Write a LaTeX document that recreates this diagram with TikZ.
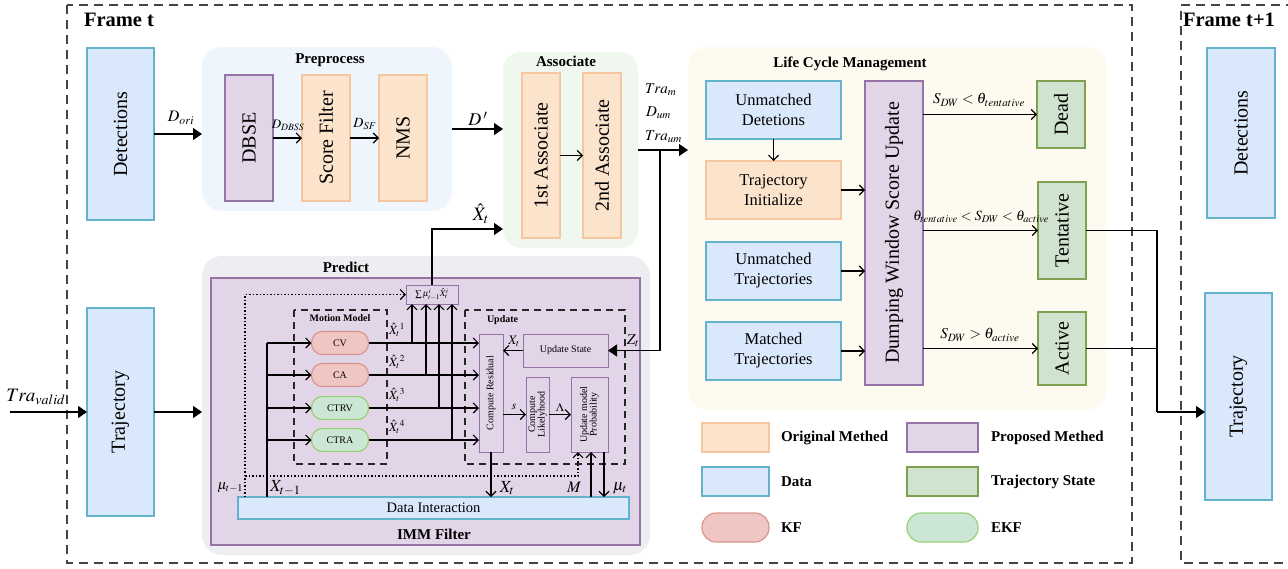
\documentclass[tikz,border=0pt]{standalone}
\usepackage{mathptmx}
\usepackage{fontspec}
\setmainfont{Liberation Serif}
\usepackage{graphicx}
\usetikzlibrary{arrows.meta,calc}

% palette
\definecolor{dataF}{HTML}{DAE8FC}
\definecolor{dataB}{HTML}{63B3CD}
\definecolor{origF}{HTML}{FCE4CC}
\definecolor{origB}{HTML}{F6C6A0}
\definecolor{propF}{HTML}{E1D5E7}
\definecolor{propB}{HTML}{9673A6}
\definecolor{stateF}{HTML}{D0E3CE}
\definecolor{stateB}{HTML}{7FA050}
\definecolor{kfF}{HTML}{F0C6C4}
\definecolor{kfB}{HTML}{D9958D}
\definecolor{ekfF}{HTML}{CBE6D4}
\definecolor{ekfB}{HTML}{97D077}
\definecolor{preBg}{HTML}{EFF5FD}
\definecolor{assBg}{HTML}{EFF7EF}
\definecolor{lcmBg}{HTML}{FDFBEF}
\definecolor{predBg}{HTML}{EEEDF2}
\definecolor{frameC}{HTML}{444444}

% text sizes
\newcommand{\uptext}[1]{\rotatebox{90}{#1}}
\newcommand{\fbig}{\fontsize{20}{24}\selectfont}
\newcommand{\fmid}{\fontsize{16.5}{20}\selectfont}
\newcommand{\fttl}{\bfseries\fontsize{15}{18}\selectfont}
\newcommand{\fsm}{\fontsize{10}{11.5}\selectfont}
\newcommand{\fsmb}{\bfseries\fontsize{10}{12}\selectfont}
\newcommand{\fdi}{\fontsize{14.5}{17}\selectfont}
\newcommand{\setfs}[1]{\fontsize{#1}{#1}\selectfont}

\tikzset{
  every node/.style={inner sep=0pt, outer sep=0pt},
  sz/.style 2 args={minimum width=#1pt, minimum height=#2pt},
  blk/.style={draw, line width=1.2pt, align=center},
  databox/.style={blk, draw=dataB, fill=dataF},
  origbox/.style={blk, draw=origB, fill=origF},
  propbox/.style={blk, draw=propB, fill=propF},
  statebox/.style={blk, draw=stateB, fill=stateF},
  kfpill/.style={blk, draw=kfB, fill=kfF, rounded corners=11pt},
  ekfpill/.style={blk, draw=ekfB, fill=ekfF, rounded corners=11pt},
  panel/.style={rounded corners=20pt},
  dashbox/.style={draw=black!85, line width=1.2pt, dash pattern=on 7pt off 5pt},
  framebox/.style={draw=frameC, line width=1.3pt, dash pattern=on 9pt off 6pt},
  flow/.style={line width=1.2pt, -{Triangle[length=9pt,width=12pt]}},
  lnk/.style={line width=1.1pt, -{Straight Barb[length=5pt,width=10pt]}},
  plain/.style={line width=1.2pt},
  dots/.style={line width=1.1pt, dash pattern=on 1.5pt off 2pt, -{Straight Barb[length=5pt,width=10pt]}},
  ttl/.style={font=\fttl},
  leg/.style={font=\fttl, anchor=west},
}

\begin{document}
\begin{tikzpicture}[x=1pt, y=-1pt]
\path[use as bounding box] (0,0) rectangle (1288,568);

% ---------- frames ----------
\draw[framebox] (67,5) rectangle (1132,563);
\draw[framebox] (1295,5) -- (1181,5) -- (1181,563) -- (1295,563);
\node[anchor=west, font=\bfseries\fontsize{20.5}{24}\selectfont] (ft) at (84,20) {Frame t};
\node[anchor=west, font=\bfseries\fontsize{20.5}{24}\selectfont] (ft1) at (1183,20) {Frame t+1};

% ---------- panels ----------
\node[panel, fill=preBg, sz={250}{164}] (pre) at (327,129) {};
\node[panel, fill=assBg, sz={135}{196}, rounded corners=18pt] (assoc) at (570.5,150) {};
\node[panel, fill=lcmBg, sz={419}{363}] (lcm) at (897.5,228.5) {};
\node[panel, fill=predBg, sz={448}{299}] (pred) at (426,405.5) {};
\node[propbox, sz={429}{267}] (imm) at (425.5,411.5) {};

\node[ttl] (tpre) at (330,60) {Preprocess};
\node[ttl] (tass) at (566,61) {Associate};
\node[ttl] (tlcm) at (850,64) {Life Cycle Management};
\node[ttl] (tpred) at (346,267) {Predict};
\node[ttl] (timm) at (434,534) {IMM Filter};

% ---------- frame t: inputs ----------
\node[databox, sz={67}{172}, font=\fbig] (det) at (120.5,134) {\uptext{Detections}};
\node[databox, sz={67}{208}, font=\fbig] (traj) at (120.5,412) {\uptext{Trajectory}};

% ---------- preprocess ----------
\node[propbox, sz={48}{126}, font=\fbig] (dbse) at (249,138) {\uptext{DBSE}};
\node[origbox, sz={48}{126}, font=\fbig] (sf) at (326,138) {\uptext{Score Filter}};
\node[origbox, sz={48}{126}, font=\fbig] (nms) at (403,138) {\uptext{NMS}};

% ---------- associate ----------
\node[origbox, sz={38}{165}, font=\fbig] (as1) at (541,155.5) {\uptext{1st Associate}};
\node[origbox, sz={38}{165}, font=\fbig] (as2) at (602,155.5) {\uptext{2nd Associate}};

% ---------- life cycle management ----------
\node[databox, sz={135}{58}, font=\fmid] (ud) at (773.5,110) {Unmatched\\Detetions};
\node[origbox, sz={135}{58}, font=\fmid] (ti) at (773.5,190) {Trajectory\\Initialize};
\node[databox, sz={135}{58}, font=\fmid] (ut) at (773.5,271) {Unmatched\\Trajectories};
\node[databox, sz={135}{58}, font=\fmid] (mt) at (773.5,351) {Matched\\Trajectories};
\node[propbox, sz={58}{304}, font=\fbig] (dw) at (894,233) {\uptext{Dumping Window Score Update}};
\node[statebox, sz={48}{67}, font=\fbig] (dead) at (1061,114.5) {\uptext{Dead}};
\node[statebox, sz={48}{97}, font=\fbig] (tent) at (1062,230.5) {\uptext{Tentative}};
\node[statebox, sz={48}{73}, font=\fbig] (act) at (1062,348.5) {\uptext{Active}};

% ---------- frame t+1 ----------
\node[databox, sz={68}{170}, font=\fbig] (det2) at (1241,133) {\uptext{Detections}};
\node[databox, sz={67}{207}, font=\fbig] (traj2) at (1238.5,396.5) {\uptext{Trajectory}};

% ---------- predict / IMM filter ----------
\draw[dashbox] (294,310) rectangle (387,464);
\draw[dashbox] (465,310) rectangle (625,464);
\node[font=\fsmb] (tmm) at (340,318) {Motion Model};
\node[font=\fsmb, anchor=west] (tupd) at (487,320) {Update};

\node[propbox, sz={52}{19}, line width=1pt, font=\fontsize{9}{10}\selectfont] (sum) at (432,294.5) {$\textstyle\sum\mu_{t-1}^{i}\hat{X}_t^{i}$};

\node[kfpill, sz={57}{23}, font=\fsm] (cv) at (340,343) {CV};
\node[kfpill, sz={57}{23}, font=\fsm] (ca) at (340,375) {CA};
\node[ekfpill, sz={57}{23}, font=\fsm] (ctrv) at (340,408) {CTRV};
\node[ekfpill, sz={57}{23}, font=\fsm] (ctra) at (340,440) {CTRA};

\node[propbox, sz={24}{118}, line width=1pt, font=\fsm] (cr) at (491,393) {\uptext{Compute Residual}};
\node[propbox, sz={85}{33}, line width=1pt, font=\fsm] (ust) at (565.5,350.5) {Update State};
\node[propbox, sz={23}{75}, line width=1pt, font=\fsm] (cl) at (537.5,414.5)
  {\uptext{\begin{tabular}{@{}c@{}}Compute\\[-2pt]Likelyhood\end{tabular}}};
\node[propbox, sz={37}{75}, line width=1pt, font=\fsm] (ump) at (589.5,414.5)
  {\uptext{\begin{tabular}{@{}c@{}}Update model\\[-2pt]Probability\end{tabular}}};

\node[databox, sz={391}{22}, font=\fdi] (di) at (433.5,508) {Data Interaction};

% ---------- legend ----------
\node[origbox, sz={67}{29}] (lg1) at (735.5,437.5) {};
\node[leg] (lgt1) at (781,437.5) {Original Methed};
\node[propbox, sz={71}{29}] (lg2) at (942.5,437.5) {};
\node[leg] (lgt2) at (991,437.5) {Proposed Methed};
\node[databox, sz={67}{29}] (lg3) at (735.5,481.5) {};
\node[leg] (lgt3) at (781,481.5) {Data};
\node[statebox, sz={71}{29}] (lg4) at (942.5,481.5) {};
\node[leg] (lgt4) at (991,481.5) {Trajectory State};
\node[kfpill, sz={67}{29}, rounded corners=14pt] (lg5) at (735.5,527.5) {};
\node[leg] (lgt5) at (781,527.5) {KF};
\node[ekfpill, sz={71}{29}, rounded corners=14pt] (lg6) at (942.5,527.5) {};
\node[leg] (lgt6) at (991,527.5) {EKF};

% ---------- main flow ----------
\coordinate (tin) at (10,412);
\draw[flow] (tin) -- (traj.west);
\node (lvalid) at (36,397) {\setfs{19}$Tra_{valid}$};
\draw[flow] (traj.east) -- (traj.east -| pred.west);

\draw[flow] (det.east) -- (det.east -| pre.west);
\node (ldori) at (181,118) {\setfs{16}$D_{ori}$};
\draw[lnk] (dbse.east) -- (sf.west);
\node (lddbss) at (288,125) {\setfs{13}$D_{DBSS}$};
\draw[lnk] (sf.east) -- (nms.west);
\node (ldsf) at (365,124) {\setfs{14}$D_{SF}$};
\draw[flow] (pre.east) -- (pre.east -| assoc.west);
\node (ldp) at (478,119) {\setfs{18}$D\,'$};
\draw[lnk] (as1.east) -- (as2.west);

\draw[flow] (sum.north) |- ([yshift=-79pt]assoc.west);
\node (lxhat) at (481,214) {\setfs{19}$\hat{X}_t$};

\draw[flow] (assoc.east) -- (assoc.east -| lcm.west);
\node[anchor=west] (ltm) at (645,90) {\setfs{15}$Tra_{m}$};
\node[anchor=west] (ldum) at (646,113) {\setfs{15}$D_{um}$};
\node[anchor=west] (ltum) at (645,137) {\setfs{15}$Tra_{um}$};
\coordinate (br) at (660,150);
\draw[flow] (br) |- (ust.east);
\node (lzt) at (633,341) {\setfs{15}$Z_t$};

% life cycle
\draw[lnk] (ud.south) -- (ti.north);
\draw[lnk] (ti.east) -- (ti.east -| dw.west);
\draw[lnk] (ut.east) -- (ut.east -| dw.west);
\draw[lnk] (mt.east) -- (mt.east -| dw.west);
\draw[lnk] (dw.east |- dead.west) -- (dead.west);
\draw[lnk] (dw.east |- tent.west) -- (tent.west);
\draw[lnk] (dw.east |- act.west) -- (act.west);
\node (lc1) at (979,100) {\setfs{15}$S_{DW}<\theta_{tentative}$};
\node (lc2) at (981,217) {\setfs{14}$\theta_{tentative}<S_{DW}<\theta_{active}$};
\node (lc3) at (980,335) {\setfs{15}$S_{DW}>\theta_{active}$};

\coordinate (jn) at (1157,412);
\draw[plain] (tent.east) -| (jn);
\draw[plain] (act.east) -- (act.east -| jn);
\draw[flow] (jn) -- (jn -| traj2.west);

% IMM wiring
\coordinate (xb) at (267,343);
\draw[plain] (di.north -| xb) -- (xb);
\draw[lnk] (xb) -- (cv.west);
\draw[lnk] (xb |- ca.west) -- (ca.west);
\draw[lnk] (xb |- ctrv.west) -- (ctrv.west);
\draw[lnk] (xb |- ctra.west) -- (ctra.west);

\draw[lnk] (cv.east) -- (cv.east -| cr.west);
\draw[lnk] (ca.east) -- (ca.east -| cr.west);
\draw[lnk] (ctrv.east) -- (ctrv.east -| cr.west);
\draw[lnk] (ctra.east) -- (ctra.east -| cr.west);
\draw[lnk] ([xshift=72pt]cv.center) -- ([xshift=72pt]cv.center |- sum.south);
\draw[lnk] ([xshift=86pt]ca.center) -- ([xshift=86pt]ca.center |- sum.south);
\draw[lnk] ([xshift=99pt]ctrv.center) -- ([xshift=99pt]ctrv.center |- sum.south);
\draw[lnk] ([xshift=112pt]ctra.center) -- ([xshift=112pt]ctra.center |- sum.south);
\node[anchor=west] (lx1) at (389,330) {\setfs{12.5}$\hat{X}_t{}^{1}$};
\node[anchor=west] (lx2) at (389,362) {\setfs{12.5}$\hat{X}_t{}^{2}$};
\node[anchor=west] (lx3) at (389,395) {\setfs{12.5}$\hat{X}_t{}^{3}$};
\node[anchor=west] (lx4) at (389,427) {\setfs{12.5}$\hat{X}_t{}^{4}$};

\draw[lnk] (ust.west) -- (ust.west -| cr.east);
\node (lxt1) at (514,341) {\setfs{13}$X_t$};
\draw[lnk] (cr.east |- cl.west) -- (cl.west);
\node (ls) at (514,407) {\setfs{12}$s$};
\draw[lnk] (cl.east) -- (ump.west);
\node (llam) at (560,407) {\setfs{12}$\Lambda$};

\draw[lnk] (cr.south) -- (cr.south |- di.north);
\node (lxt2) at (507,488) {\setfs{17}$X_t$};
\draw[lnk] ([xshift=1.5pt]ump.south |- di.north) -- ([xshift=1.5pt]ump.south);
\draw[lnk] ([xshift=14.5pt]ump.south) -- ([xshift=14.5pt]ump.south |- di.north);
\node (lm) at (574,487) {\setfs{16}$M$};
\node (lmut) at (620,488) {\setfs{16}$\mu_t$};

\coordinate (dj) at (245,476);
\draw[dots] ([xshift=7pt]di.north west) |- (sum.west);
\draw[dots] (dj) -| ([xshift=-11.5pt]ump.south);
\node[anchor=east] (lmu1) at (243,488) {\setfs{14}$\mu_{t-1}$};
\node[anchor=west] (lxt3) at (270,488) {\setfs{17}$X_{t-1}$};

\end{tikzpicture}
\end{document}
